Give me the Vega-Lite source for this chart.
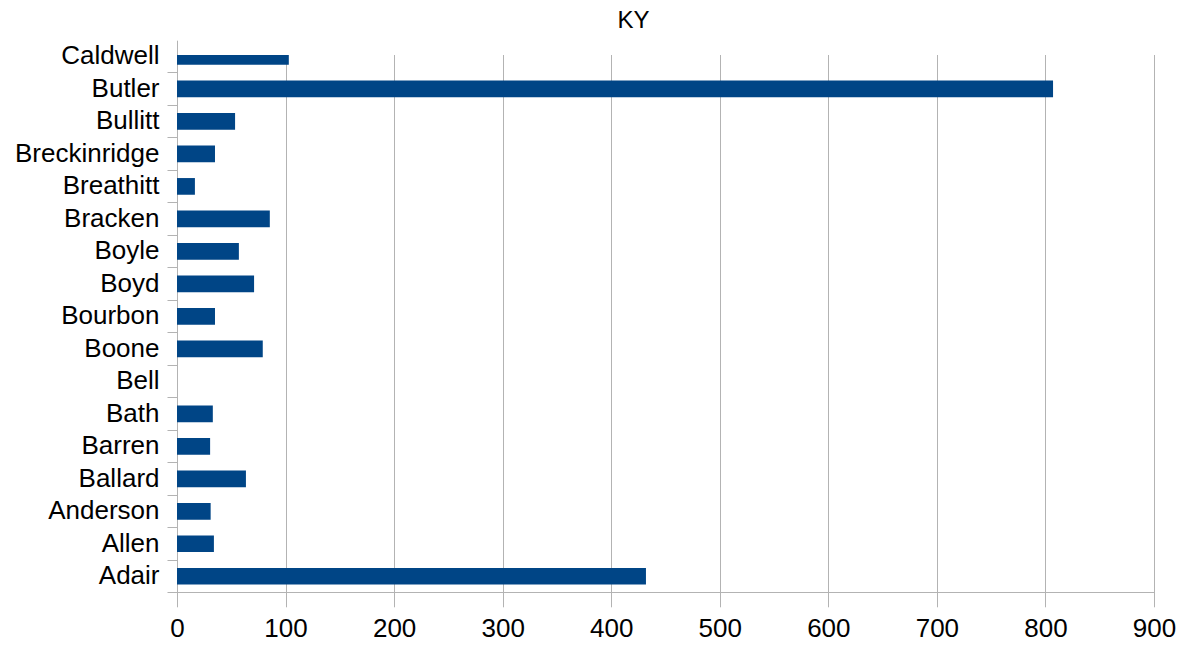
{
  "$schema": "https://vega.github.io/schema/vega-lite/v6.json",
  "autosize": "none",
  "width": 977,
  "height": 537,
  "padding": {"left": 177, "top": 55, "right": 29, "bottom": 53},
  "background": "white",
  "title": {
    "text": "KY",
    "font": "Liberation Sans",
    "fontSize": 24,
    "fontWeight": "normal",
    "color": "#000000",
    "anchor": "middle",
    "dx": -32,
    "offset": 10
  },
  "data": {
    "values": [
      {"county": "Adair", "value": 432},
      {"county": "Allen", "value": 34},
      {"county": "Anderson", "value": 31},
      {"county": "Ballard", "value": 63.5},
      {"county": "Barren", "value": 30.5},
      {"county": "Bath", "value": 33},
      {"county": "Bell", "value": 0},
      {"county": "Boone", "value": 79},
      {"county": "Bourbon", "value": 35},
      {"county": "Boyd", "value": 71},
      {"county": "Boyle", "value": 57},
      {"county": "Bracken", "value": 85.5},
      {"county": "Breathitt", "value": 16.5},
      {"county": "Breckinridge", "value": 35},
      {"county": "Bullitt", "value": 53.5},
      {"county": "Butler", "value": 807},
      {"county": "Caldwell", "value": 103}
    ]
  },
  "mark": {"type": "bar", "color": "#004586", "clip": true, "height": {"band": 0.514}},
  "encoding": {
    "y": {
      "field": "county",
      "type": "nominal",
      "sort": null,
      "scale": {"range": [537.5, -14.8], "paddingInner": 0, "paddingOuter": 0},
      "axis": {
        "title": null,
        "labelFont": "Liberation Sans",
        "labelFontSize": 26,
        "labelColor": "#000000",
        "labelPadding": 8,
        "tickSize": 10,
        "tickColor": "#b3b3b3",
        "domainColor": "#b3b3b3",
        "bandPosition": 1,
        "grid": false
      }
    },
    "x": {
      "field": "value",
      "type": "quantitative",
      "scale": {"domain": [0, 900], "nice": false},
      "axis": {
        "title": null,
        "values": [0, 100, 200, 300, 400, 500, 600, 700, 800, 900],
        "labelFont": "Liberation Sans",
        "labelFontSize": 26,
        "labelColor": "#000000",
        "labelPadding": 12,
        "tickSize": 11,
        "tickColor": "#b3b3b3",
        "domainColor": "#b3b3b3",
        "gridColor": "#b3b3b3",
        "grid": true,
        "labelFlush": false
      }
    }
  },
  "config": {"view": {"stroke": null}}
}
